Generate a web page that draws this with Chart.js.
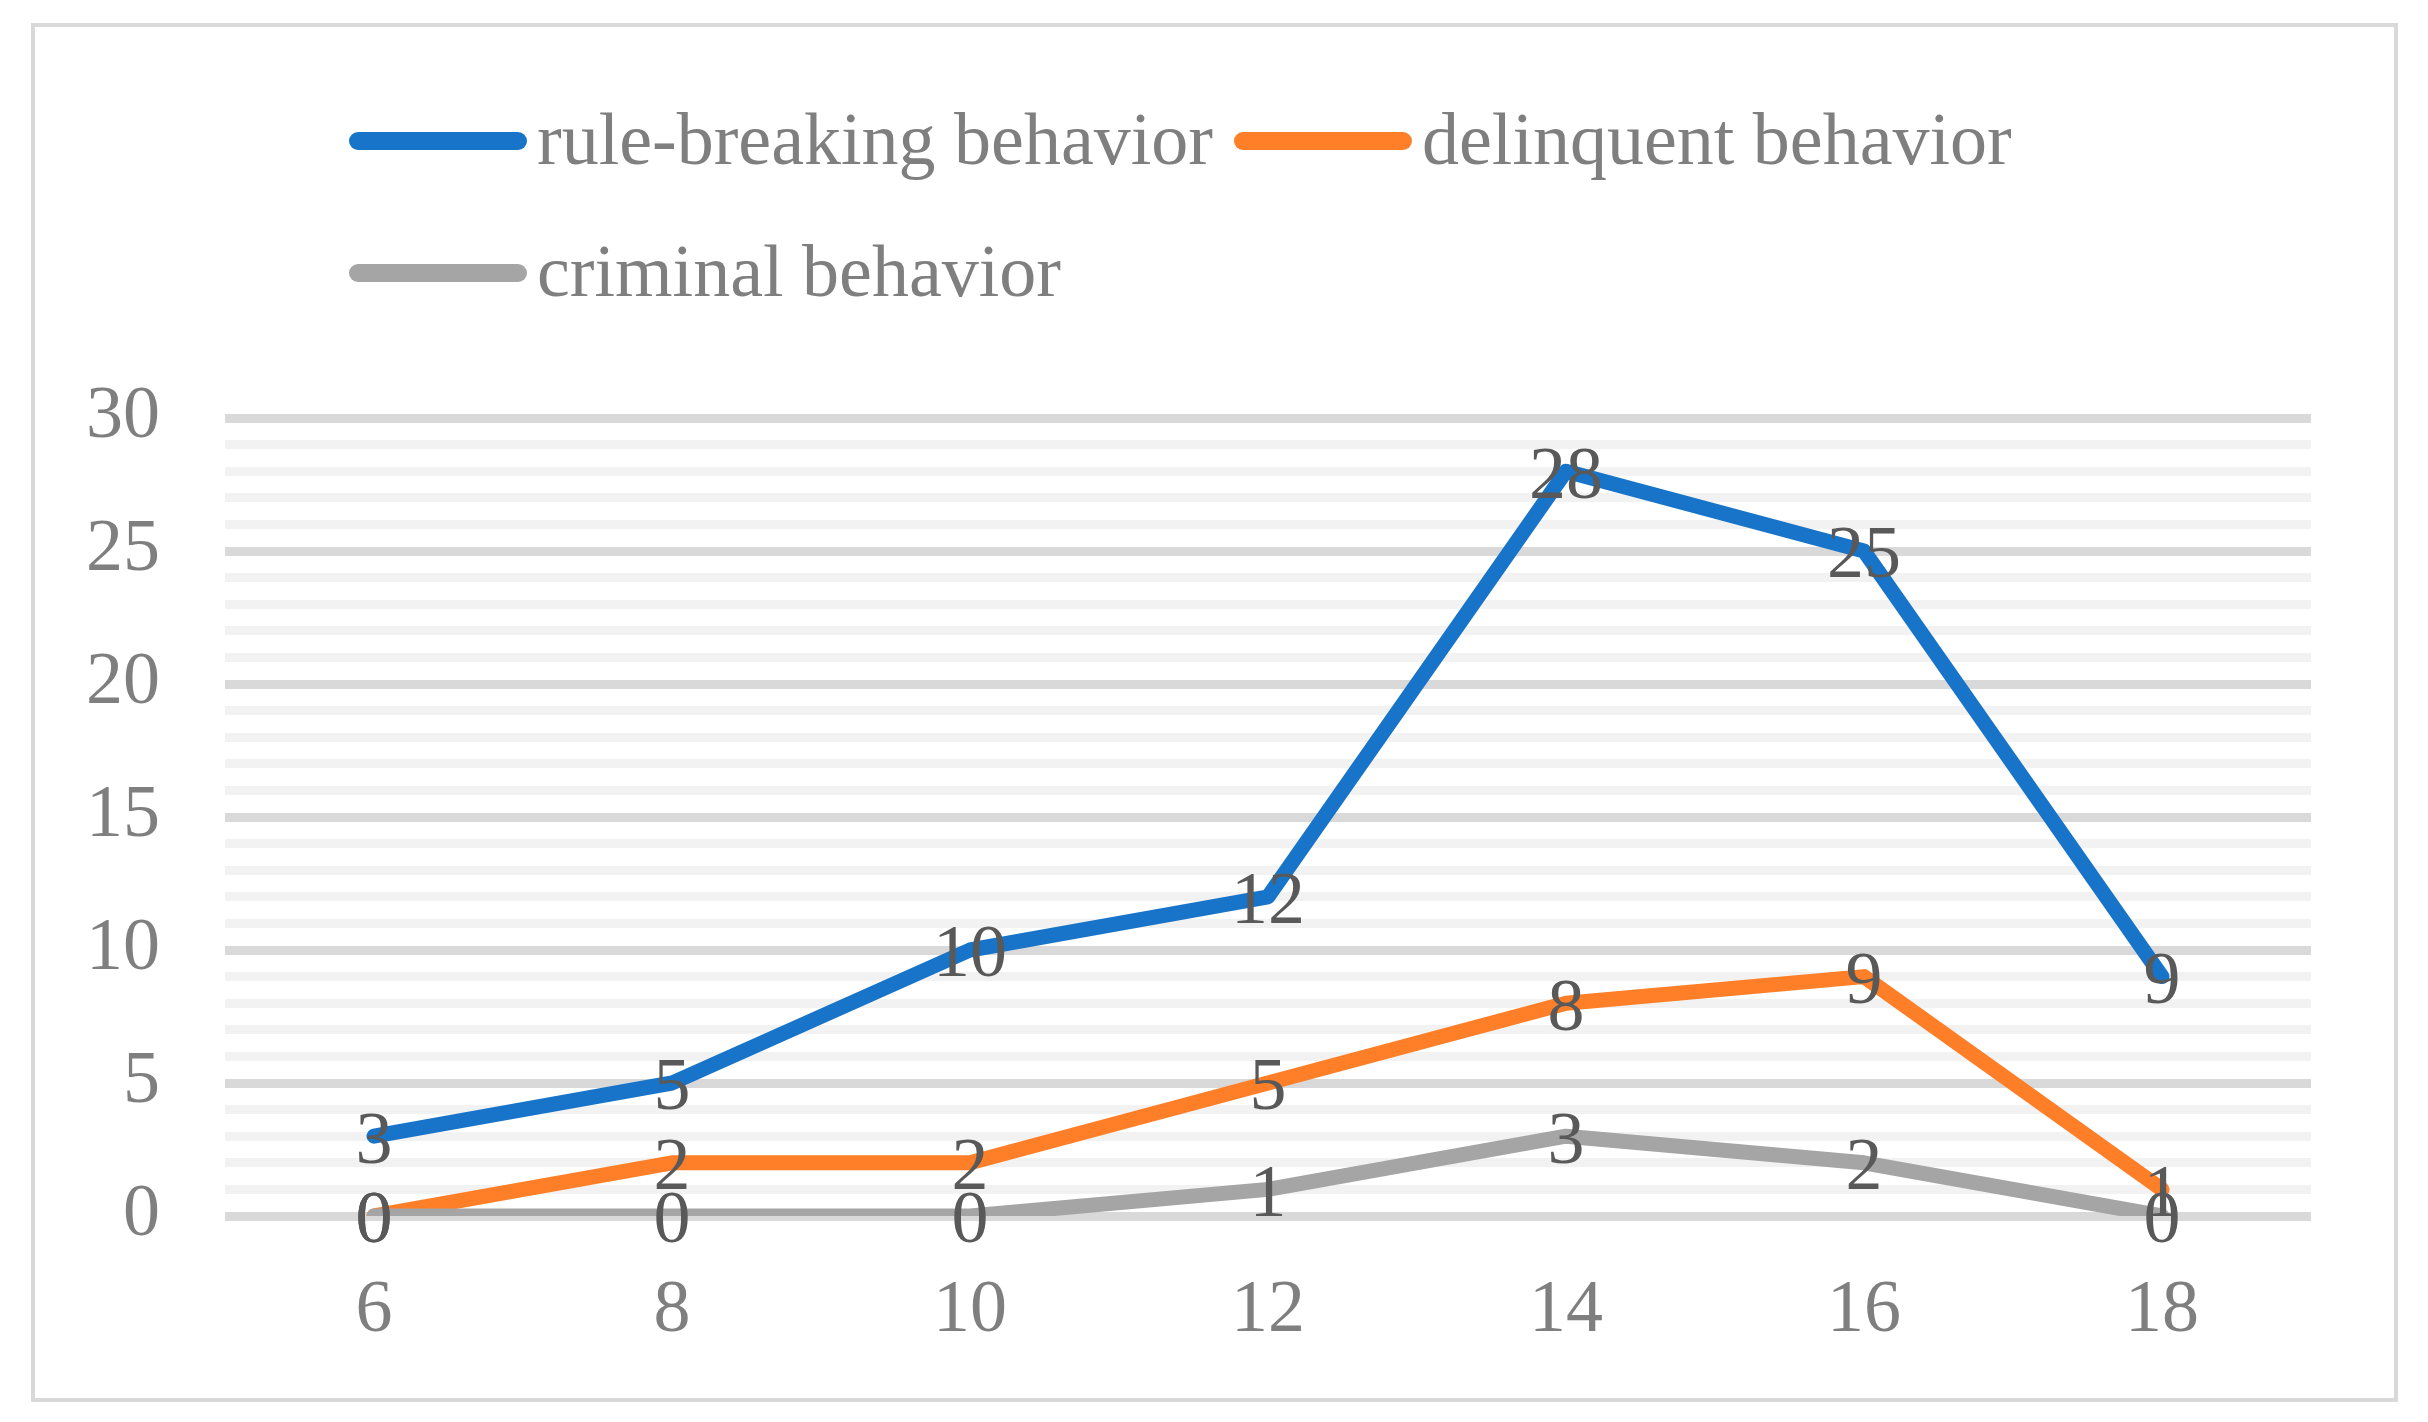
<!DOCTYPE html>
<html lang="en">
<head>
    <meta charset="UTF-8">
    <title>Behavior by age</title>
    <style>
        body { margin: 0; background: #fff; }
        #frame {
            position: absolute; left: 31px; top: 23px;
            width: 2367px; height: 1379px;
            border: 4px solid #d9d9d9; box-sizing: border-box;
            pointer-events: none;
        }
    </style>
</head>
<body>
<script src="https://cdn.jsdelivr.net/npm/chart.js@4.4.0/dist/chart.umd.min.js"></script>

<canvas id="graphCanvas" width="2428" height="1422"></canvas>
<div id="frame"></div>

<script>
    var ages = ['6', '8', '10', '12', '14', '16', '18'];
    var ruleBreaking = [3, 5, 10, 12, 28, 25, 9];
    var delinquent = [0, 2, 2, 5, 8, 9, 1];
    var criminal = [0, 0, 0, 1, 3, 2, 0];
    var seriesNames = ['rule-breaking behavior', 'delinquent behavior', 'criminal behavior'];

    var FONT = '"Liberation Serif", "Times New Roman", serif';

    // values written on top of each point
    var valueLabels = {
        id: 'valueLabels',
        afterDatasetsDraw: function (chart) {
            var ctx = chart.ctx;
            ctx.save();
            ctx.font = '74px ' + FONT;
            ctx.fillStyle = '#595959';
            ctx.textAlign = 'center';
            ctx.textBaseline = 'middle';
            chart.data.datasets.forEach(function (ds, i) {
                chart.getDatasetMeta(i).data.forEach(function (pt, j) {
                    ctx.fillText(ds.data[j], pt.x, pt.y + 7);
                });
            });
            ctx.restore();
        }
    };

    // excel style legend, two rows, left aligned
    var legendRows = [[0, 1], [2]];
    var lineLegend = {
        id: 'lineLegend',
        afterDraw: function (chart) {
            var ctx = chart.ctx;
            ctx.save();
            ctx.font = '74px ' + FONT;
            ctx.textBaseline = 'middle';
            ctx.textAlign = 'left';
            ctx.lineCap = 'round';
            ctx.lineWidth = 18;
            var y = 141;
            legendRows.forEach(function (row) {
                var x = 358;
                row.forEach(function (i) {
                    var ds = chart.data.datasets[i];
                    ctx.strokeStyle = ds.borderColor;
                    ctx.beginPath();
                    ctx.moveTo(x, y);
                    ctx.lineTo(x + 160, y);
                    ctx.stroke();
                    ctx.fillStyle = '#7f7f7f';
                    ctx.fillText(ds.label, x + 179, y + 4);
                    x = x + 179 + ctx.measureText(ds.label).width + 30;
                });
                y += 132;
            });
            ctx.restore();
        }
    };

    function lineSet(label, data, color, order) {
        return {
            label: label,
            data: data,
            borderColor: color,
            backgroundColor: color,
            borderWidth: 15,
            borderCapStyle: 'round',
            borderJoinStyle: 'round',
            pointRadius: 0,
            tension: 0,
            order: order
        };
    }

    new Chart(document.getElementById('graphCanvas'), {
        type: 'line',
        data: {
            labels: ages,
            datasets: [
                lineSet(seriesNames[0], ruleBreaking, '#1874c8', 3),
                lineSet(seriesNames[1], delinquent, '#fe7f27', 2),
                lineSet(seriesNames[2], criminal, '#a5a5a5', 1)
            ]
        },
        plugins: [valueLabels, lineLegend],
        options: {
            responsive: false,
            devicePixelRatio: 1,
            animation: false,
            events: [],
            layout: { padding: { top: 418, right: 117, left: 0, bottom: 0 } },
            plugins: {
                legend: { display: false },
                tooltip: { enabled: false }
            },
            scales: {
                x: {
                    type: 'category',
                    offset: true,
                    grid: { display: false },
                    border: { display: false },
                    ticks: {
                        color: '#7f7f7f',
                        font: { family: FONT, size: 74 },
                        padding: 43,
                        maxRotation: 0
                    },
                    afterFit: function (s) { s.height = 206; }
                },
                y: {
                    min: 0,
                    max: 30,
                    border: { display: false },
                    grid: {
                        drawTicks: false,
                        lineWidth: 9,
                        color: function (c) {
                            return c.tick && c.tick.value % 5 === 0 ? '#d9d9d9' : '#f2f2f2';
                        }
                    },
                    ticks: {
                        stepSize: 1,
                        autoSkip: false,
                        color: '#7f7f7f',
                        font: { family: FONT, size: 74 },
                        padding: 65,
                        callback: function (v) { return v % 5 === 0 ? v : ''; }
                    },
                    afterFit: function (s) { s.width = 225; }
                }
            }
        }
    });
</script>
</body>
</html>
